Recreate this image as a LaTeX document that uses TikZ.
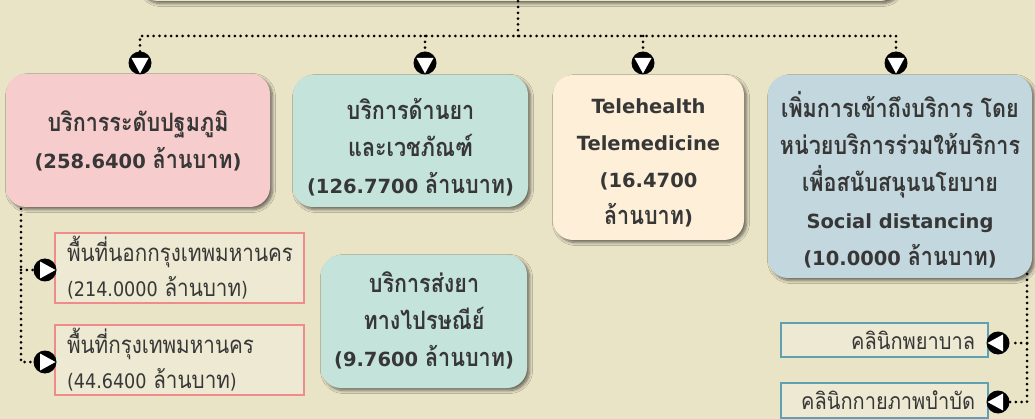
\documentclass[tikz,border=0pt]{standalone}
\usepackage{fontspec}
\setmainfont{DejaVu Sans}
\newfontfamily\latsub{DejaVu Sans}[FakeStretch=0.88]
\newfontfamily\thaiA[Script=Thai,Scale=1.3,FakeStretch=0.85]{Loma}
\newfontfamily\thaiB[Script=Thai,Scale=1.2,FakeStretch=0.86]{Loma}
\newfontfamily\thaiC[Script=Thai,Scale=1.15,FakeStretch=0.87]{Loma}
\newcommand\thcur{\thaiA}
\newcommand\tht[1]{{\thcur #1}}
\usetikzlibrary{shadows,shadows.blur}
\definecolor{bg}{RGB}{234,228,199}
\definecolor{txt}{RGB}{55,55,55}
\definecolor{pinkf}{RGB}{247,204,204}
\definecolor{tealf}{RGB}{196,228,219}
\definecolor{creamf}{RGB}{253,239,216}
\definecolor{bluef}{RGB}{195,216,222}
\definecolor{pinkb}{RGB}{238,140,140}
\definecolor{blueb}{RGB}{95,160,178}
\definecolor{subf}{RGB}{237,233,210}
\tikzset{
  mainbox/.style={rectangle, rounded corners=20pt, inner sep=0pt,
    blur shadow={shadow xshift=2.5pt, shadow yshift=-2.5pt, shadow blur steps=6, shadow opacity=55, shadow blur radius=3pt}},
  maintext/.style={align=center, text=txt, inner sep=0pt,
    font=\let\thcur\thaiA\bfseries\fontsize{19.5}{37}\selectfont},
  subleft/.style={rectangle, draw=pinkb, line width=2pt, fill=subf, inner xsep=12pt,
    inner ysep=0pt, align=left, text=txt, font=\let\thcur\thaiB\latsub\fontsize{20}{35}\selectfont},
  subright/.style={rectangle, draw=blueb, line width=2pt, fill=subf, inner xsep=13pt,
    inner ysep=0pt, align=right, text=txt, font=\let\thcur\thaiC\latsub\fontsize{20}{35}\selectfont},
  dotline/.style={draw=black, line width=3pt, line cap=round, dash pattern=on 0pt off 5.8pt},
  icon/.style={circle, fill=black, minimum size=23pt, inner sep=0pt},
  icondown/.style={icon, path picture={\fill[white]
    ([xshift=-8.5pt,yshift=5pt]path picture bounding box.center) --
    ([xshift=8.5pt,yshift=5pt]path picture bounding box.center) --
    ([yshift=-10.5pt]path picture bounding box.center) -- cycle;}},
  iconright/.style={icon, path picture={\fill[white]
    ([xshift=-5pt,yshift=8.5pt]path picture bounding box.center) --
    ([xshift=-5pt,yshift=-8.5pt]path picture bounding box.center) --
    ([xshift=10.5pt]path picture bounding box.center) -- cycle;}},
  iconleft/.style={icon, path picture={\fill[white]
    ([xshift=5pt,yshift=8.5pt]path picture bounding box.center) --
    ([xshift=5pt,yshift=-8.5pt]path picture bounding box.center) --
    ([xshift=-10.5pt]path picture bounding box.center) -- cycle;}},
}
\begin{document}
\begin{tikzpicture}[x=1pt,y=-1pt]
\useasboundingbox (0,0) rectangle (1035,419);
\fill[bg] (0,0) rectangle (1035,419);

% top (cut-off) box
\node[mainbox, fill=bg, minimum width=762pt, minimum height=60pt] (top) at (519,-29) {};

% main boxes
\node[mainbox, fill=pinkf, minimum width=264pt, minimum height=133pt] (b1) at (138,140.5) {};
\node[maintext] (t1) at (138,141) {\tht{บริการระดับปฐมภูมิ}\\(258.6400 \tht{ล้านบาท})};

\node[mainbox, fill=tealf, minimum width=235pt, minimum height=132pt] (b2) at (410.5,141) {};
\node[maintext] (t2) at (410.5,147) {\tht{บริการด้านยา}\\\tht{และเวชภัณฑ์}\\(126.7700 \tht{ล้านบาท})};

\node[mainbox, fill=creamf, minimum width=191pt, minimum height=165pt] (b3) at (648.5,157.5) {};
\node[maintext] (t3) at (648.5,163) {Telehealth\\Telemedicine\\(16.4700\\\tht{ล้านบาท})};

\node[mainbox, fill=bluef, minimum width=264pt, minimum height=203pt] (b4) at (900,176.5) {};
\node[maintext] (t4) at (900,180) {\tht{เพิ่มการเข้าถึงบริการ โดย}\\\tht{หน่วยบริการร่วมให้บริการ}\\\tht{เพื่อสนับสนุนนโยบาย}\\Social distancing\\(10.0000 \tht{ล้านบาท})};

\node[mainbox, fill=tealf, minimum width=206pt, minimum height=133pt] (b5) at (424,321.5) {};
\node[maintext] (t5) at (424,320) {\tht{บริการส่งยา}\\\tht{ทางไปรษณีย์}\\(9.7600 \tht{ล้านบาท})};

% sub boxes left
\node[subleft, minimum width=249pt, minimum height=70pt, text width=225pt] (s1) at (179.5,268) {\tht{พื้นที่นอกกรุงเทพมหานคร}\\(214.0000 \tht{ล้านบาท})};
\node[subleft, minimum width=249pt, minimum height=70pt, text width=225pt] (s2) at (179.5,360) {\tht{พื้นที่กรุงเทพมหานคร}\\(44.6400 \tht{ล้านบาท})};

% sub boxes right
\node[subright, minimum width=207pt, minimum height=34pt, text width=181pt] (s3) at (884.5,340) {\tht{คลินิกพยาบาล}};
\node[subright, minimum width=207pt, minimum height=35pt, text width=181pt] (s4) at (884.5,400) {\tht{คลินิกกายภาพบำบัด}};

% icons
\node[icondown] (i1) at (140,63) {};
\node[icondown] (i2) at (425,63) {};
\node[icondown] (i3) at (643,63) {};
\node[icondown] (i4) at (896,63) {};
\node[iconright] (i5) at (45,270) {};
\node[iconright] (i6) at (45,362) {};
\node[iconleft] (i7) at (998,343) {};
\node[iconleft] (i8) at (998,402) {};

% connectors
\coordinate (hub) at (518,36);
\coordinate (lv) at (21,209);
\coordinate (rv) at (1027,274);
\draw[dotline] (top.south -| hub) -- (hub);
\draw[dotline] (i1.north) -- (i1.north |- hub) -- (i4.north |- hub) -- (i4.north);
\draw[dotline] (i2.north |- hub) -- (i2.north);
\draw[dotline] (i3.north |- hub) -- (i3.north);
\draw[dotline] (lv) |- (i6.west);
\draw[dotline] (lv |- i5.west) -- (i5.west);
\draw[dotline] (rv) |- (i8.east);
\draw[dotline] (rv |- i7.east) -- (i7.east);
\end{tikzpicture}
\end{document}
